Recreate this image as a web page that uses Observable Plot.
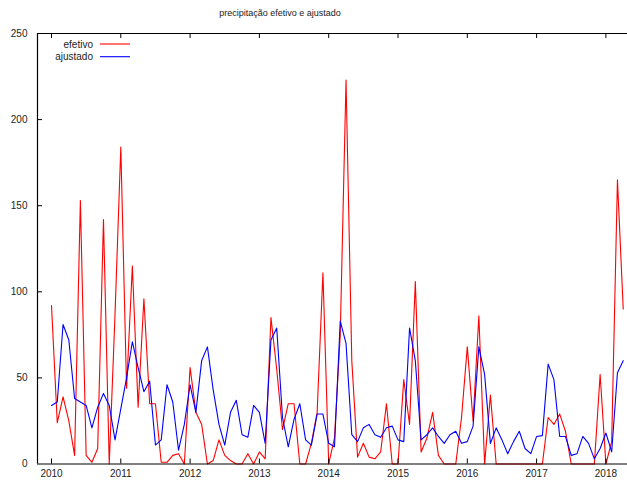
<!DOCTYPE html>
<html><head><meta charset="utf-8">
<script src="https://cdn.jsdelivr.net/npm/d3@7"></script>
<script src="https://cdn.jsdelivr.net/npm/@observablehq/plot@0.6"></script>
<style>
body{margin:0;background:#fff;font-family:"Liberation Sans",Arial,sans-serif;}
#wrap{position:relative;width:627px;height:486px;overflow:hidden;background:#fff}
#sub{position:absolute;top:8px;left:0;width:560px;text-align:center;font-size:9px;line-height:11px;color:#222}
#chart{position:absolute;top:22px;left:0}
</style></head><body>
<div id="wrap"><div id="sub">precipitação efetivo e ajustado</div><div id="chart"></div></div>
<script>
const startYear = 2010;
const yearTicks = [2010, 2011, 2012, 2013, 2014, 2015, 2016, 2017, 2018];
const yTicks = [0, 50, 100, 150, 200, 250];
const seriesNames = ["efetivo", "ajustado"];
const seriesColors = ["#ff0000", "#0000ff"];
// monthly values from Jan 2010
const efetivo = [
  92,24,39,25,5,153,5,1,9,142,
  0,87,184,44,115,33,96,35,35,1,
  1,5,6,0,56,30,23,0,2,14,
  5,2,0,0,6,0,7,3,85,55,
  20,35,35,0,0,12,30,111,0,15,
  75,223,60,4,12,4,3,7,35,0,
  0,49,23,106,7,15,30,5,0,0,
  0,27,68,25,86,0,40,0,0,0,
  0,0,0,0,0,0,27,23,29,19,
  0,0,0,0,0,52,0,13,165,90
];
const ajustado = [
  34,36,81,72,38,36,34,21,33,41,
  34,14,32,50,71,56,42,48,11,14,
  46,36,8,23,46,30,60,68,43,23,
  11,30,37,17,15.5,34,30,12,72,79,
  27,10,26,35,14,11,29,29,12,10,
  83,70,17,13,21,23,17,15.5,21,22,
  14,13,79,60,14,17,21,16,12,17,
  19,12,13,22,68,52,12,21,14,6,
  13,19,9,6,16,16.5,58,49,16,16,
  5,6,16,12,3,9,18,7,53,60
];

const W = 627, H = 464, mL = 37, mR = 0, mT = 11, mB = 22.5;
const pxPerYear = 69.3;
const xmin = startYear - (51 - mL) / pxPerYear;
const xmax = startYear + (W - mR - 51) / pxPerYear;
const innerH = H - mT - mB;
const tickLen = 5; // px
const tickY = tickLen / innerH * 250;
const tickX = tickLen / pxPerYear;

const toRows = (arr, s) => arr.map((v, i) => ({t: startYear + i / 12, v, s}));
const rowsE = toRows(efetivo, seriesNames[0]);
const rowsA = toRows(ajustado, seriesNames[1]);
const innerYTicks = yTicks.filter(v => v > 0 && v < 250);

const chart = Plot.plot({
  width: W, height: H,
  marginLeft: mL, marginRight: mR, marginTop: mT, marginBottom: mB,
  style: {fontFamily: '"Liberation Sans", Arial, sans-serif', fontSize: "10px", color: "#222", background: "#fff"},
  x: {domain: [xmin, xmax], ticks: yearTicks, tickFormat: d => String(d), tickSize: 0, tickPadding: 6, label: null},
  y: {domain: [0, 250], ticks: yTicks, tickSize: 0, tickPadding: 10, label: null},
  marks: [
    Plot.lineY(rowsE, {x: "t", y: "v", stroke: seriesColors[0], strokeWidth: 1.1}),
    Plot.lineY(rowsA, {x: "t", y: "v", stroke: seriesColors[1], strokeWidth: 1.1}),
    Plot.ruleY([0, 250], {stroke: "#000", strokeWidth: 1}),
    Plot.ruleX([xmin], {y1: 0, y2: 250, stroke: "#000", strokeWidth: 1.2}),
    Plot.ruleX(yearTicks, {y1: 0, y2: tickY, stroke: "#000"}),
    Plot.ruleX(yearTicks, {y1: 250 - tickY, y2: 250, stroke: "#000"}),
    Plot.ruleY(innerYTicks, {x1: xmin, x2: xmin + tickX, stroke: "#000"})
  ]
});
document.getElementById("chart").appendChild(chart);

// legend
const svg = d3.select(chart);
const lg = svg.append("g").attr("font-size", "10px").attr("fill", "#222");
seriesNames.forEach((name, k) => {
  const y = 44 - 22 + k * 12.7;
  lg.append("text").attr("x", 93).attr("y", y).attr("dy", "0.35em").attr("text-anchor", "end").text(name);
  lg.append("line").attr("x1", 100).attr("x2", 130).attr("y1", y).attr("y2", y)
    .attr("stroke", seriesColors[k]).attr("stroke-width", 1.1);
});
</script>
</body></html>
